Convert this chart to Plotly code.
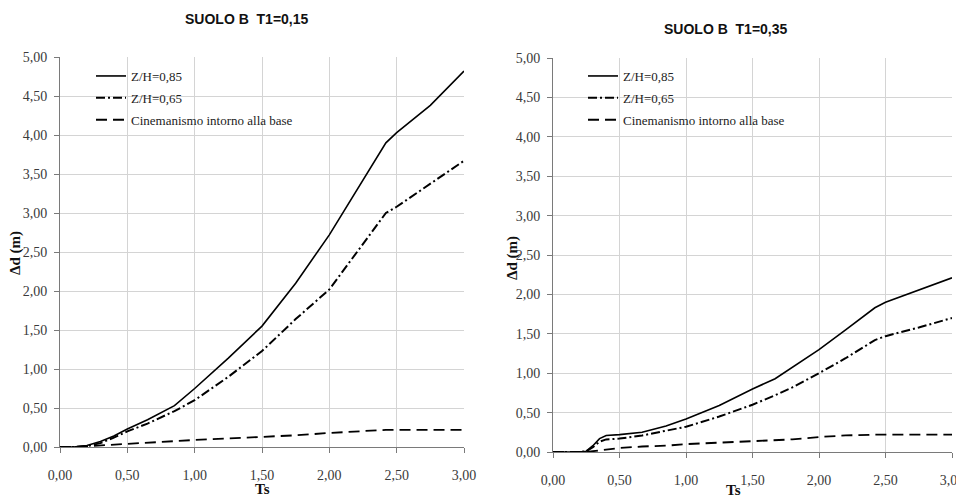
import plotly.graph_objects as go

# ---------------- data ----------------
ts_left = [0, 0.1, 0.2, 0.3, 0.4, 0.5, 0.65, 0.85, 1.0, 1.25, 1.5, 1.75, 2.0, 2.2, 2.42, 2.5, 2.75, 3.0]
left_zh085 = [0, 0, 0.02, 0.07, 0.14, 0.23, 0.35, 0.53, 0.75, 1.14, 1.55, 2.1, 2.72, 3.28, 3.9, 4.03, 4.38, 4.82]
left_zh065 = [0, 0, 0.01, 0.05, 0.12, 0.2, 0.3, 0.46, 0.6, 0.9, 1.23, 1.64, 2.02, 2.48, 3.0, 3.08, 3.38, 3.67]
left_base = [0, 0, 0.01, 0.02, 0.03, 0.04, 0.06, 0.08, 0.09, 0.11, 0.13, 0.15, 0.18, 0.2, 0.22, 0.22, 0.22, 0.22]

ts_right = [0, 0.2, 0.25, 0.3, 0.35, 0.38, 0.4, 0.5, 0.67, 0.85, 1.0, 1.25, 1.5, 1.67, 1.8, 2.0, 2.2, 2.42, 2.5, 2.75, 3.0]
right_zh085 = [0, 0, 0.01, 0.08, 0.17, 0.2, 0.21, 0.22, 0.25, 0.33, 0.42, 0.59, 0.8, 0.93, 1.08, 1.3, 1.55, 1.83, 1.9, 2.05, 2.21]
right_zh065 = [0, 0, 0.01, 0.06, 0.13, 0.15, 0.16, 0.17, 0.21, 0.27, 0.32, 0.45, 0.6, 0.72, 0.82, 1.0, 1.19, 1.42, 1.47, 1.58, 1.7]
right_base = [0, 0, 0, 0.01, 0.02, 0.03, 0.03, 0.05, 0.07, 0.08, 0.1, 0.12, 0.14, 0.15, 0.16, 0.19, 0.21, 0.22, 0.22, 0.22, 0.22]

series_names = ["Z/H=0,85", "Z/H=0,65", "Cinemanismo intorno alla base"]
panel_titles = ["SUOLO B\u00a0\u00a0T1=0,15", "SUOLO B\u00a0\u00a0T1=0,35"]
x_ticks = [0, 0.5, 1.0, 1.5, 2.0, 2.5, 3.0]
y_ticks = [0, 0.5, 1.0, 1.5, 2.0, 2.5, 3.0, 3.5, 4.0, 4.5, 5.0]
x_title = "Ts"
y_title = "\u0394d (m)"

# ---------------- figure ----------------
OFF = 8                      # page body margin
W, H = 964 - OFF, 500 - OFF
SERIF = "Liberation Serif"
styles = [dict(dash="solid", width=1.6),
          dict(dash="9px,3px,2px,3px", width=2),
          dict(dash="11px,6px", width=1.8)]

fig = go.Figure()
panels = [
    (ts_left, [left_zh085, left_zh065, left_base], "x", "y", "legend"),
    (ts_right, [right_zh085, right_zh065, right_base], "x2", "y2", "legend2"),
]
for ts, ys, xa, ya, lg in panels:
    for i, (name, yv) in enumerate(zip(series_names, ys)):
        fig.add_trace(go.Scatter(
            x=ts, y=yv, mode="lines", name=name, xaxis=xa, yaxis=ya,
            legend=lg, legendgroup=lg + str(i),
            line=dict(color="black", **styles[i]),
        ))

def px_x(p):
    return (p - OFF) / W

def px_y(p):
    return 1 - (p - OFF) / H

axis_common = dict(
    showgrid=True, gridcolor="#d4d4d4", gridwidth=1,
    showline=True, linecolor="#7a7a7a", linewidth=1,
    ticks="outside", ticklen=5, tickcolor="#7a7a7a",
    tickfont=dict(family=SERIF, size=14, color="#3a3a3a"),
    zeroline=False, tickformat=".2f", automargin=False,
    ticklabeloverflow="allow",
)

# pixel geometry of plot areas (screen pixels)
L = dict(x0=60, x1=464, y0=57, y1=447)
R = dict(x0=553, x1=952, y0=58, y1=452)

legend_font = dict(family=SERIF, size=13, color="#222")

fig.update_layout(
    width=W, height=H, margin=dict(l=0, r=0, t=0, b=0, autoexpand=False),
    paper_bgcolor="white", plot_bgcolor="white",
    separators=",.",
    showlegend=True,
    xaxis=dict(domain=[px_x(L["x0"]), px_x(L["x1"])], range=[0, 3], tickvals=x_ticks,
               anchor="y", ticklabelstandoff=10, **axis_common),
    yaxis=dict(domain=[px_y(L["y1"]), px_y(L["y0"])], range=[0, 5], tickvals=y_ticks,
               anchor="x", ticklabelstandoff=4, **axis_common),
    xaxis2=dict(domain=[px_x(R["x0"]), px_x(R["x1"])], range=[0, 3], tickvals=x_ticks,
                anchor="y2", ticklabelstandoff=10, **axis_common),
    yaxis2=dict(domain=[px_y(R["y1"]), px_y(R["y0"])], range=[0, 5], tickvals=y_ticks,
                anchor="x2", ticklabelstandoff=4, **axis_common),
    legend=dict(x=px_x(91), y=px_y(61), xanchor="left", yanchor="top",
                bgcolor="rgba(0,0,0,0)", font=legend_font,
                tracegroupgap=2, itemwidth=30),
    legend2=dict(x=px_x(583), y=px_y(61), xanchor="left", yanchor="top",
                 bgcolor="rgba(0,0,0,0)", font=legend_font,
                 tracegroupgap=2, itemwidth=30),
)

# white boxes behind the legends (hiding gridlines like the reference)
fig.add_shape(type="rect", xref="paper", yref="paper", layer="between",
              x0=px_x(61), x1=px_x(320), y0=px_y(133), y1=px_y(58),
              fillcolor="white", line=dict(width=0))
fig.add_shape(type="rect", xref="paper", yref="paper", layer="between",
              x0=px_x(554), x1=px_x(815), y0=px_y(134), y1=px_y(59),
              fillcolor="white", line=dict(width=0))

# titles and axis titles
ann = dict(xref="paper", yref="paper", showarrow=False, xanchor="center", yanchor="middle")
for text, cx, cy in [(panel_titles[0], 247, 19), (panel_titles[1], 726, 29)]:
    fig.add_annotation(text="<b>" + text + "</b>", x=px_x(cx), y=px_y(cy),
                       font=dict(family="Liberation Sans", size=14, color="#111"), **ann)
for cx, cy in [(15, 253), (512, 258)]:
    fig.add_annotation(text="<b>" + y_title + "</b>", x=px_x(cx), y=px_y(cy), textangle=-90,
                       font=dict(family=SERIF, size=15, color="#111"), **ann)
for cx, cy in [(262, 489), (733, 490)]:
    fig.add_annotation(text="<b>" + x_title + "</b>", x=px_x(cx), y=px_y(cy),
                       font=dict(family=SERIF, size=15, color="#111"), **ann)

fig.write_html("out.html")
